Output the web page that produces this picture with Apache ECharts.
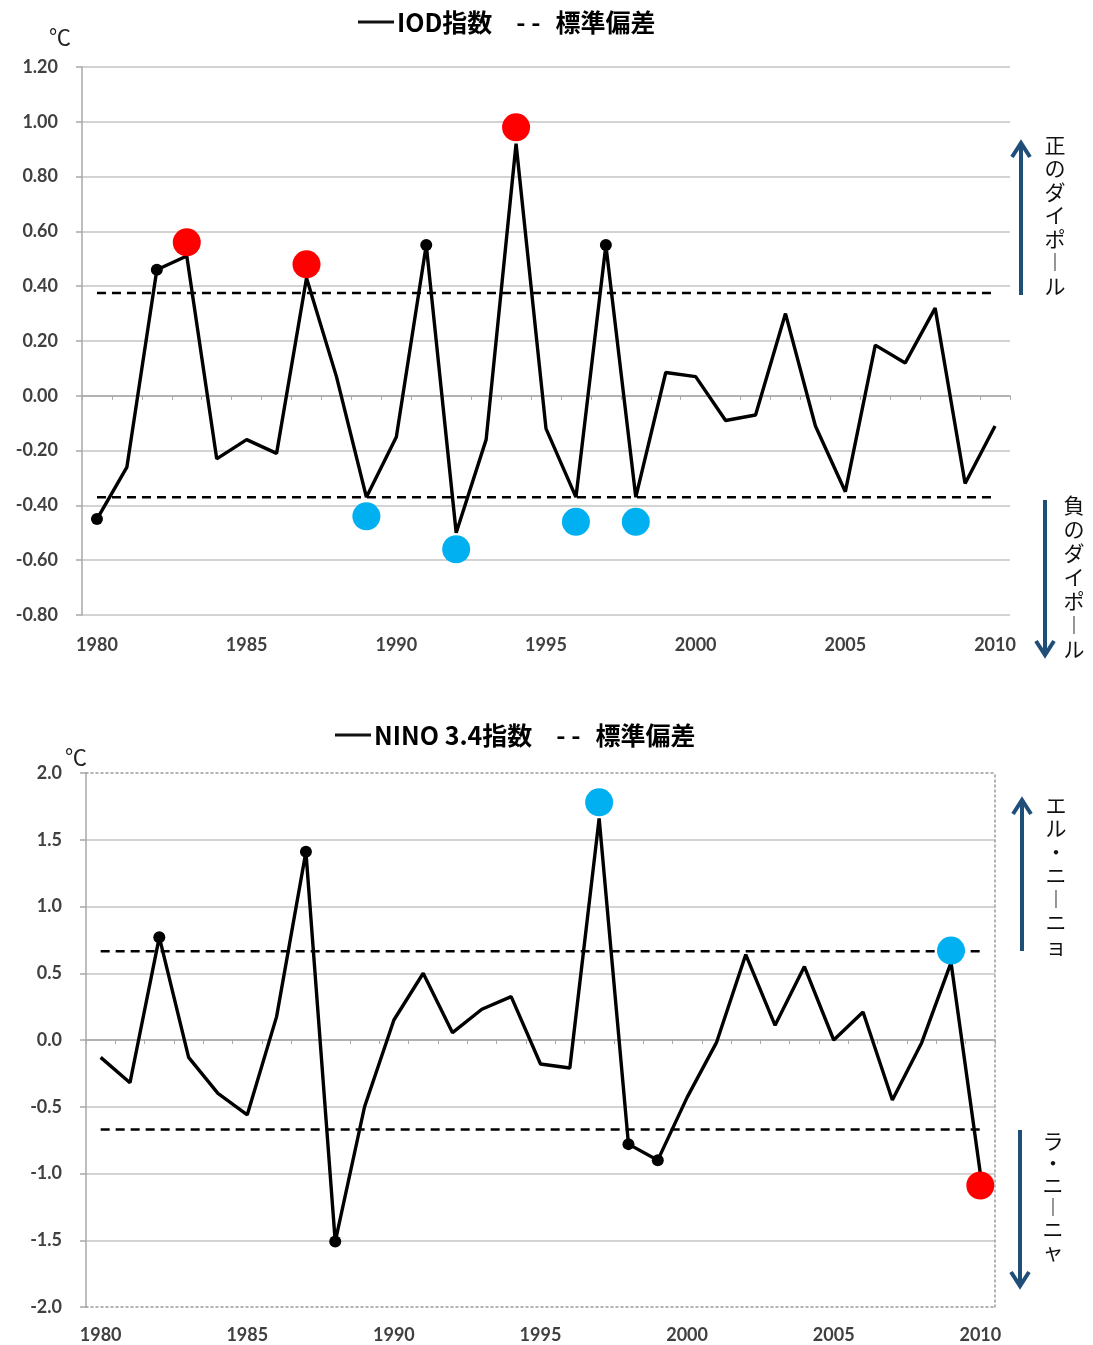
<!DOCTYPE html>
<html><head><meta charset="utf-8">
<script src="https://cdn.jsdelivr.net/npm/echarts@6/dist/echarts.min.js"></script>
<style>html,body{margin:0;padding:0;background:#fff}#c{width:1093px;height:1345px}</style>
</head><body><div id="c"></div>
<script>
// ---------- data ----------
const years = ['1980','1981','1982','1983','1984','1985','1986','1987','1988','1989',
  '1990','1991','1992','1993','1994','1995','1996','1997','1998','1999',
  '2000','2001','2002','2003','2004','2005','2006','2007','2008','2009','2010'];
const xLabelYears = ['1980','1985','1990','1995','2000','2005','2010'];

const iodValues = [-0.45,-0.26,0.46,0.51,-0.23,-0.16,-0.21,0.43,0.07,-0.37,
  -0.15,0.55,-0.50,-0.16,0.92,-0.12,-0.37,0.55,-0.37,0.085,
  0.07,-0.09,-0.07,0.30,-0.11,-0.35,0.185,0.12,0.32,-0.32,-0.11];
const iodDotYears = ['1980','1982','1991','1997'];
const iodPositiveYears = ['1983','1987','1994'];
const iodPositiveValues = [0.56,0.48,0.98];
const iodNegativeYears = ['1989','1992','1996','1998'];
const iodNegativeValues = [-0.44,-0.56,-0.46,-0.46];
const iodStdUpper = 0.375;
const iodStdLower = -0.37;

const ninoValues = [-0.13,-0.32,0.77,-0.13,-0.40,-0.56,0.175,1.41,-1.51,-0.50,
  0.15,0.50,0.055,0.23,0.325,-0.18,-0.21,1.66,-0.78,-0.90,
  -0.43,-0.02,0.64,0.11,0.55,0.0,0.21,-0.45,-0.02,0.58,-1.00];
const ninoDotYears = ['1982','1987','1988','1998','1999'];
const ninoElNinoYears = ['1997','2009'];
const ninoElNinoValues = [1.78,0.67];
const ninoLaNinaYears = ['2010'];
const ninoLaNinaValues = [-1.09];
const ninoStdUpper = 0.665;
const ninoStdLower = -0.67;

const iodLegend = ['IOD指数','標準偏差'];
const ninoLegend = ['NINO 3.4指数','標準偏差'];
const unitLabel = '℃';
const iodUpLabel = '正のダイポール';
const iodDownLabel = '負のダイポール';
const ninoUpLabel = 'エル・ニーニョ';
const ninoDownLabel = 'ラ・ニーニャ';

// ---------- styling ----------
const GRID_C = '#c4c4c4';
const AXIS_C = '#a8a8a8';
const LABEL_C = '#404040';
const ARROW_C = '#1f4e79';
const RED = '#ff0000';
const BLUE = '#00b0f0';
const numFont = 'Lato, "Open Sans", sans-serif';
const jpFont = '"Noto Sans CJK JP", "Noto Sans", sans-serif';

function lineData(values, dotYears) {
  return values.map((v, i) => dotYears.includes(years[i])
    ? { value: v, symbol: 'circle', symbolSize: 12 }
    : { value: v, symbol: 'none' });
}
function pairs(ys, vs) { return ys.map((y, i) => [y, vs[i]]); }
function vert(s) { return s.split('').map(c => c === 'ー' ? '︱' : c).join('\n'); }

function labelAxis(gridIndex, dotted) {
  return {
    type: 'category', gridIndex, data: years, boundaryGap: true, position: 'bottom',
    axisLine: { show: !!dotted, onZero: false, lineStyle: { color: '#9a9a9a', type: [2, 3], width: 1.5 } },
    axisTick: { show: false },
    splitLine: { show: false },
    axisLabel: {
      interval: (i, v) => xLabelYears.includes(v),
      color: LABEL_C, fontFamily: numFont, fontWeight: 'bold', fontSize: 18, margin: gridIndex === 0 ? 21 : 19
    }
  };
}
function zeroAxis(gridIndex) {
  return {
    type: 'category', gridIndex, data: years, boundaryGap: true, position: 'top',
    axisLine: { show: true, onZero: true, lineStyle: { color: AXIS_C, width: 1.5 } },
    axisTick: { show: true, inside: true, length: 4, interval: 0, lineStyle: { color: AXIS_C } },
    axisLabel: { show: false }, splitLine: { show: false }
  };
}
function topBorderAxis(gridIndex) {
  return {
    type: 'category', gridIndex, data: years, boundaryGap: true, position: 'top',
    axisLine: { show: true, onZero: false, lineStyle: { color: '#9a9a9a', type: [2, 3], width: 1.5 } },
    axisTick: { show: false }, axisLabel: { show: false }, splitLine: { show: false }
  };
}
function valueAxis(gridIndex, min, max, interval, digits, hideEnds) {
  return {
    type: 'value', gridIndex, min, max, interval, position: 'left',
    axisLine: { show: true, onZero: false, lineStyle: { color: AXIS_C, width: 1.5 } },
    axisTick: { show: true, length: 6, lineStyle: { color: AXIS_C, width: 1.5 } },
    axisLabel: { formatter: v => v.toFixed(digits), color: LABEL_C, fontFamily: numFont, fontWeight: 'bold', fontSize: 18, margin: 24 },
    splitLine: { show: true, showMinLine: !hideEnds, showMaxLine: !hideEnds, lineStyle: { color: GRID_C, width: 1.5 } }
  };
}
function stdSeries(xi, yi, val, name) {
  return {
    type: 'line', name, xAxisIndex: xi, yAxisIndex: yi, symbol: 'none', silent: true,
    data: [[years[0], val], [years[years.length - 1], val]],
    lineStyle: { color: '#000', width: 2.5, type: [9, 6] }, z: 2
  };
}
function mainSeries(xi, yi, values, dots, name) {
  return {
    type: 'line', name, xAxisIndex: xi, yAxisIndex: yi, showAllSymbol: true,
    data: lineData(values, dots), itemStyle: { color: '#000' },
    lineStyle: { color: '#000', width: 3.4 }, z: 3
  };
}
function dotSeries(xi, yi, ys, vs, color) {
  return {
    type: 'scatter', xAxisIndex: xi, yAxisIndex: yi, data: pairs(ys, vs),
    symbolSize: 28, itemStyle: { color, opacity: 1 }, z: 5
  };
}
function arrow(x, y1, y2) {
  const dir = y2 < y1 ? 1 : -1;
  return {
    type: 'group', children: [
      { type: 'line', shape: { x1: x, y1: y1, x2: x, y2: y2 + dir * 2 }, style: { stroke: ARROW_C, lineWidth: 4 } },
      { type: 'polyline', shape: { points: [[x - 9, y2 + dir * 14], [x, y2], [x + 9, y2 + dir * 14]] },
        style: { stroke: ARROW_C, lineWidth: 4, fill: null, lineJoin: 'miter' } }
    ]
  };
}
function vText(s, x, y, lh) {
  return { type: 'text', x, y, style: { text: vert(s), fill: '#111', font: '21px ' + jpFont, align: 'center', verticalAlign: 'top', lineHeight: lh } };
}
function legendText(x, y, parts) {
  return {
    type: 'text', x, y,
    style: {
      text: '{ln|}{a|' + parts[0] + '}{d|- -}{a|' + parts[1] + '}',
      verticalAlign: 'middle', align: 'left',
      rich: {
        ln: { width: 36, height: 3, backgroundColor: '#111' },
        a: { fontSize: 25, fontWeight: 'bold', fontFamily: jpFont, color: '#333', padding: [0, 0, 0, 3] },
        d: { fontSize: 25, fontWeight: 'bold', fontFamily: jpFont, color: '#333', padding: [0, 12, 0, 24] }
      }
    }
  };
}

const chart = echarts.init(document.getElementById('c'), null, { renderer: 'canvas' });
chart.setOption({
  animation: false,
  backgroundColor: '#fff',
  grid: [
    { left: 82, top: 67, width: 928, height: 548, containLabel: false },
    { left: 86, top: 773, width: 909, height: 534, containLabel: false }
  ],
  xAxis: [labelAxis(0, false), zeroAxis(0), labelAxis(1, true), zeroAxis(1), topBorderAxis(1)],
  yAxis: [
    valueAxis(0, -0.8, 1.2, 0.2, 2, false),
    valueAxis(1, -2, 2, 0.5, 1, true),
    { type: 'value', gridIndex: 1, min: -2, max: 2, interval: 0.5, position: 'right',
      axisLine: { show: true, onZero: false, lineStyle: { color: '#9a9a9a', type: [2, 3], width: 1.5 } },
      axisTick: { show: false }, axisLabel: { show: false }, splitLine: { show: false } }
  ],
  series: [
    stdSeries(0, 0, iodStdUpper, iodLegend[1]),
    stdSeries(0, 0, iodStdLower, iodLegend[1]),
    mainSeries(0, 0, iodValues, iodDotYears, iodLegend[0]),
    dotSeries(0, 0, iodPositiveYears, iodPositiveValues, RED),
    dotSeries(0, 0, iodNegativeYears, iodNegativeValues, BLUE),
    stdSeries(2, 1, ninoStdUpper, ninoLegend[1]),
    stdSeries(2, 1, ninoStdLower, ninoLegend[1]),
    mainSeries(2, 1, ninoValues, ninoDotYears, ninoLegend[0]),
    dotSeries(2, 1, ninoElNinoYears, ninoElNinoValues, BLUE),
    dotSeries(2, 1, ninoLaNinaYears, ninoLaNinaValues, RED)
  ],
  graphic: [
    legendText(358, 22, iodLegend),
    legendText(335, 735, ninoLegend),
    { type: 'text', x: 60, y: 37, style: { text: unitLabel, font: '22px ' + jpFont, fill: '#222', align: 'center', verticalAlign: 'middle' } },
    { type: 'text', x: 76, y: 757, style: { text: unitLabel, font: '22px ' + jpFont, fill: '#222', align: 'center', verticalAlign: 'middle' } },
    arrow(1021, 295, 143),
    vText(iodUpLabel, 1055, 133, 23.5),
    arrow(1045, 500, 655),
    vText(iodDownLabel, 1074, 493, 24),
    arrow(1022, 951, 800),
    vText(ninoUpLabel, 1056, 793, 23.5),
    arrow(1020, 1130, 1286),
    vText(ninoDownLabel, 1053, 1130, 22)
  ]
});
</script></body></html>
